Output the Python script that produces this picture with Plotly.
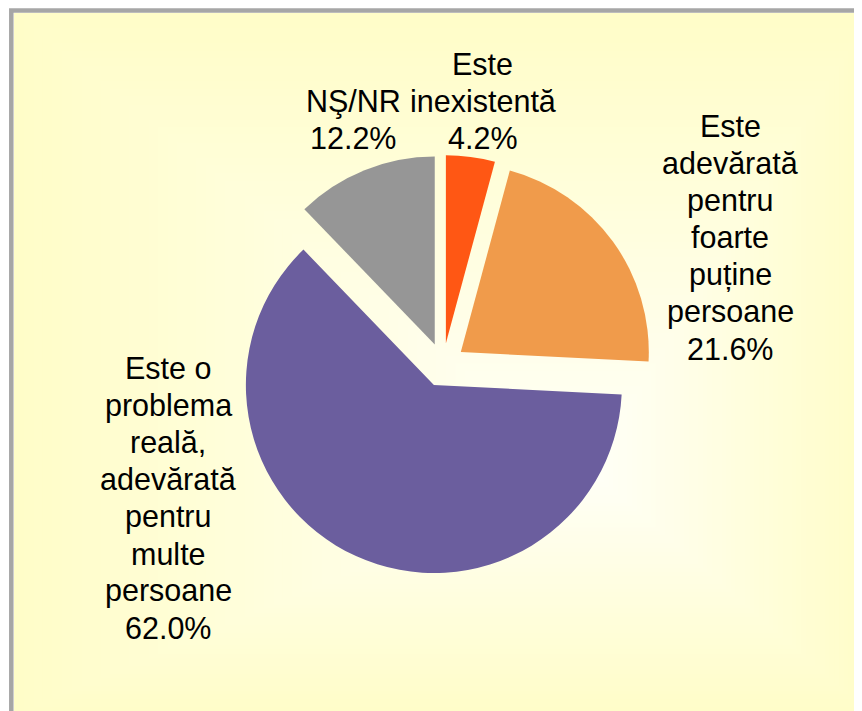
import plotly.graph_objects as go

# ---------------- data ----------------
categories = ["Este inexistentă",
              "Este adevărată pentru foarte puține persoane",
              "Este o problema reală, adevărată pentru multe persoane",
              "NŞ/NR"]
label_lines = [["Este", "inexistentă"],
               ["Este", "adevărată", "pentru", "foarte", "puține", "persoane"],
               ["Este o", "problema", "reală,", "adevărată", "pentru", "multe", "persoane"],
               ["NŞ/NR"]]
values = [4.2, 21.6, 62.0, 12.2]
colors = ["#FF5714", "#F09B4B", "#6B5E9E", "#969696"]

# ---------------- geometry helpers (window pixels -> paper) ----------------
OX, OY = 8, 8          # body margin of the page
W, H = 854, 703


def px(x):
    return (x - OX) / W


def py(y):
    return 1 - (y - OY) / H


fig = go.Figure()

fig.add_trace(go.Pie(
    labels=categories,
    values=values,
    sort=False,
    direction="clockwise",
    rotation=0,
    pull=[0.117] * len(values),
    marker=dict(colors=colors, line=dict(width=0)),
    textinfo="none",
    hoverinfo="label+percent",
    showlegend=False,
    domain=dict(x=[px(233), px(653)], y=[py(575), py(155)]),
))

shapes = []
# background gradient (path gradient, white centre -> pale yellow)
edge = (255, 253, 200)
centre = (255, 255, 248)
cx, cy = 590, 470
L, T, R, B = 576, 457, 282, 245
N = 60
for i in range(N):
    s = 1 - i / N
    c = tuple(round(centre[k] + (edge[k] - centre[k]) * s) for k in range(3))
    shapes.append(dict(type="rect", xref="paper", yref="paper",
                       x0=px(cx - s * L), x1=px(cx + s * R),
                       y0=py(cy + s * B), y1=py(cy - s * T),
                       fillcolor="rgb(%d,%d,%d)" % c, line=dict(width=0),
                       layer="below"))
# frame
shapes.append(dict(type="rect", xref="paper", yref="paper",
                   x0=px(11.3), x1=px(900), y0=py(740), y1=py(10.5),
                   line=dict(color="#A6A6A6", width=4.5), fillcolor="rgba(0,0,0,0)",
                   layer="below"))

# labels: one annotation per line so that the line spacing matches
label_pos = [(483, 64), (730, 126), (168, 368), (353, 101)]
LINE_STEP = 37.1
annotations = []
for lines, v, (lx, ly) in zip(label_lines, values, label_pos):
    for i, t in enumerate(lines + ["%.1f%%" % v]):
        annotations.append(dict(
            xref="paper", yref="paper", x=px(lx), y=py(ly + i * LINE_STEP),
            xanchor="center", yanchor="middle", align="center",
            text=t, showarrow=False,
            font=dict(family="Liberation Sans, Arial, sans-serif", size=30.5, color="#000000"),
        ))

fig.update_layout(
    width=W, height=H,
    margin=dict(l=0, r=0, t=0, b=0),
    paper_bgcolor="white",
    plot_bgcolor="rgba(0,0,0,0)",
    shapes=shapes,
    annotations=annotations,
    showlegend=False,
)

fig.write_html("out.html")
